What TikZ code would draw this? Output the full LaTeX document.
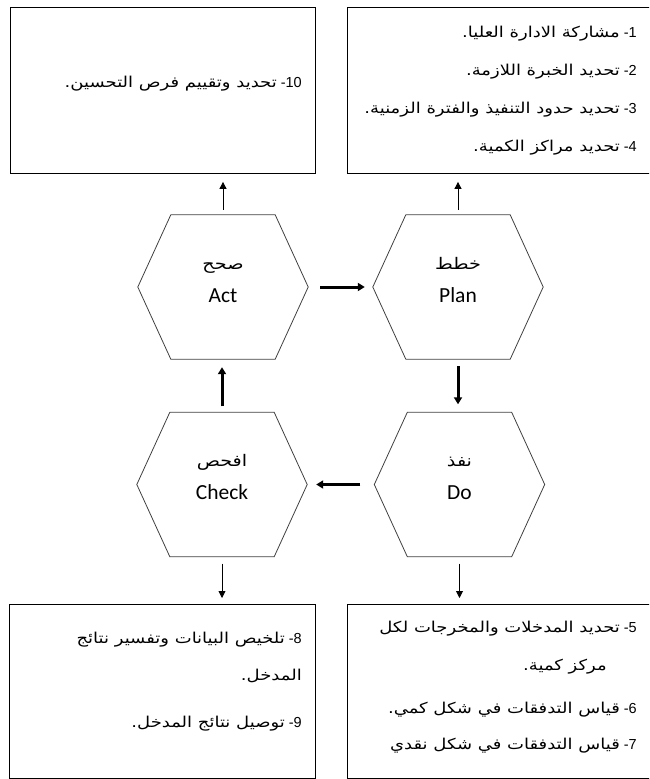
\documentclass[tikz,border=0pt]{standalone}
\usepackage{fontspec}
\setmainfont{Liberation Sans}
\newfontfamily\arabicfont[Script=Arabic, FakeStretch=1.2]{DejaVu Sans}
\newfontfamily\calfont{Carlito}
\TeXXeTstate=1
\usetikzlibrary{arrows.meta}

% one numbered line: arabic words, then the number at the right end
\newcommand{\arline}[2]{{\arabicfont\fontsize{15}{17}\selectfont #2}\ -#1}

\begin{document}
\begin{tikzpicture}[x=1pt, y=-1pt, >={Triangle[length=7pt, width=7pt]},
  every box/.style={draw, line width=0.9pt, inner sep=0pt, anchor=north west},
  every hexagon/.style={minimum width=170pt, minimum height=144pt, inner sep=0pt},
  every hexline/.style={draw=black!75, line width=0.8pt},
  every item/.style={anchor=base east, inner sep=0pt, font=\fontsize{14.5}{17}\selectfont},
  thin arrow/.style={->, line width=0.9pt},
  thick arrow/.style={-{Triangle[length=7pt, width=8pt]}, line width=3pt}]
\clip (0,0) rectangle (649,779);

% boxes
\node [every box/.try, minimum width=305pt, minimum height=166pt] (act-box) at (10,7) {};
\node [every box/.try, minimum width=320pt, minimum height=166pt] (plan-box) at (347,7) {};
\node [every box/.try, minimum width=306pt, minimum height=174pt] (check-box) at (9,604) {};
\node [every box/.try, minimum width=320pt, minimum height=174pt] (do-box) at (347,604) {};

% hexagons
\foreach \n/\x/\y/\ar/\en in {act/223/287/صحح/Act, plan/458/287/خطط/Plan,
                              check/222/484.5/افحص/Check, do/459.5/484.5/نفذ/Do} {
  \node [every hexagon/.try] (\n) at (\x,\y) {};
  \draw [every hexline/.try] ([xshift=33pt]\n.north west) -- ([xshift=-33pt]\n.north east)
    -- (\n.east) -- ([xshift=-33pt]\n.south east) -- ([xshift=33pt]\n.south west)
    -- (\n.west) -- cycle;
  \node [anchor=base, inner sep=0pt, font=\arabicfont\fontsize{16}{18}\selectfont]
    (\n-ar) at ([yshift=18pt]\n.center) {\beginR\ar\endR};
  \node [anchor=base, inner sep=0pt, font=\calfont\fontsize{21.5}{24}\selectfont]
    (\n-en) at ([yshift=-15pt]\n.center) {\en};
}

% box texts
\foreach \t [count=\i] in {\beginR مشاركة الادارة العليا.\endR, \beginR تحديد الخبرة اللازمة.\endR,
    \beginR تحديد حدود التنفيذ والفترة الزمنية.\endR, \beginR تحديد مراكز الكمية.\endR}
  \node [every item/.try] (plan-item-\i) at (637, \i*38-1) {\arline{\i}{\t}};

\node [every item/.try] (act-item-10) at (302,87)
  {\arline{10}{\beginR تحديد وتقييم فرص التحسين.\endR}};

\node [every item/.try] (do-item-5) at (637,632)
  {\arline{5}{\beginR تحديد المدخلات والمخرجات لكل\endR}};
\node [every item/.try] (do-item-5b) at (607,670)
  {\arabicfont\fontsize{15}{17}\selectfont\beginR مركز كمية.\endR};
\node [every item/.try] (do-item-6) at (637,713)
  {\arline{6}{\beginR قياس التدفقات في شكل كمي.\endR}};
\node [every item/.try] (do-item-7) at (637,749)
  {\arline{7}{\beginR قياس التدفقات في شكل نقدي\endR}};

\node [every item/.try] (check-item-8) at (302,643)
  {\arline{8}{\beginR تلخيص البيانات وتفسير نتائج\endR}};
\node [every item/.try] (check-item-8b) at (302,680)
  {\arabicfont\fontsize{15}{17}\selectfont\beginR المدخل.\endR};
\node [every item/.try] (check-item-9) at (302,727)
  {\arline{9}{\beginR توصيل نتائج المدخل.\endR}};

% cycle arrows
\draw [thick arrow, shorten <=12pt, shorten >=8pt] (act.east) -- (plan.west);
\draw [thick arrow, shorten <=7pt, shorten >=8pt] (plan.south) -- (plan.south |- do.north);
\draw [thick arrow, shorten <=14pt, shorten >=9pt] (do.west) -- (check.east);
\draw [thick arrow, shorten <=6pt, shorten >=8pt] (check.north) -- (check.north |- act.south);

% arrows to the boxes
\foreach \n in {act, plan}
  \draw [thin arrow, shorten <=5pt, shorten >=8pt] (\n.north) -- (\n.north |- \n-box.south);
\foreach \n in {check, do}
  \draw [thin arrow, shorten <=7pt, shorten >=6pt] (\n.south) -- (\n.south |- \n-box.north);
\end{tikzpicture}
\end{document}
